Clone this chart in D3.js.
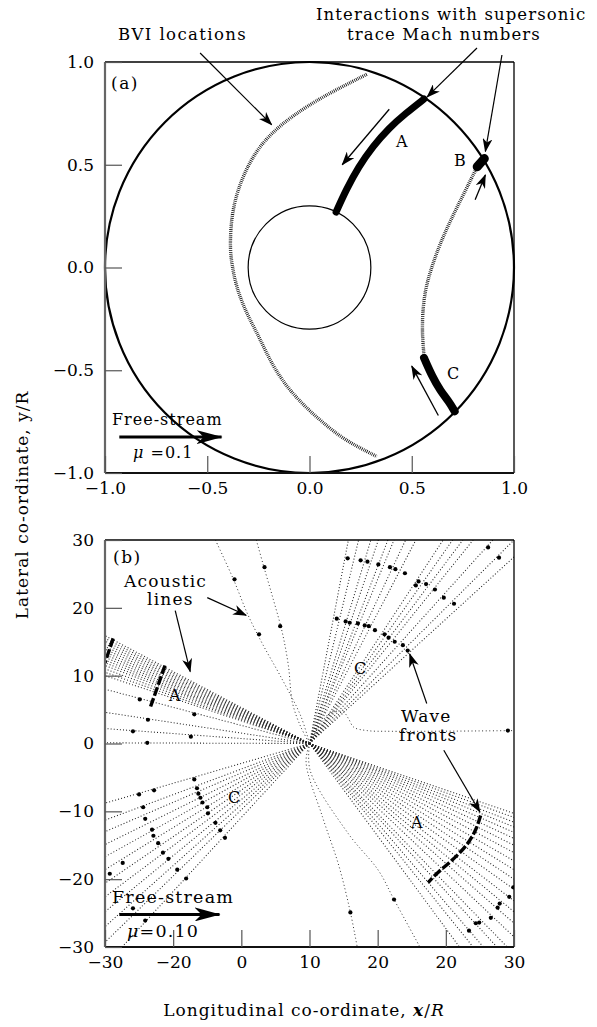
<!DOCTYPE html>
<html>
<head>
<meta charset="utf-8">
<script src="https://cdn.jsdelivr.net/npm/d3@7"></script>
<style>
  body { margin: 0; background: #fff; }
  svg { display: block; font-family: "DejaVu Serif", "Liberation Serif", serif; }
</style>
</head>
<body>
<svg id="fig" width="597" height="1027"></svg>
<script>
// ---------------- Panel (a): rotor disc, coordinates in x/R, y/R ----------------
const aTickValues = [-1, -0.5, 0, 0.5, 1];
const aTickLabels = ["\u22121.0", "\u22120.5", "0.0", "0.5", "1.0"];
const discRadius = 1.0;
const hubRadius = 0.3;

// BVI loci (hatched)
const bviLocusLeft = [
  [0.28, 0.94], [0.06, 0.83], [-0.08, 0.74], [-0.18, 0.66], [-0.26, 0.57],
  [-0.33, 0.44], [-0.38, 0.28], [-0.39, 0.10], [-0.38, 0.02], [-0.36, -0.09],
  [-0.31, -0.22], [-0.25, -0.33], [-0.19, -0.46], [-0.12, -0.57], [-0.03, -0.67],
  [0.06, -0.75], [0.17, -0.84], [0.33, -0.92]
];
const bviLocusRight = [
  [0.81, 0.47], [0.75, 0.35], [0.69, 0.23], [0.64, 0.12], [0.60, 0.01],
  [0.57, -0.09], [0.555, -0.19], [0.55, -0.31], [0.56, -0.43]
];
// Interactions with supersonic trace Mach numbers (thick)
const interactionA = [
  [0.13, 0.27], [0.18, 0.38], [0.24, 0.49], [0.31, 0.59], [0.39, 0.68], [0.47, 0.75], [0.56, 0.82]
];
const interactionB = [[0.82, 0.49], [0.855, 0.53]];
const interactionC = [[0.56, -0.44], [0.60, -0.53], [0.64, -0.60], [0.68, -0.65], [0.71, -0.70]];
// direction arrows along the loci
const sweepArrows = [
  [[0.39, 0.77], [0.16, 0.50]],
  [[0.81, 0.33], [0.86, 0.45]],
  [[0.63, -0.72], [0.50, -0.48]]
];
// leader arrows from the labels above the frame
const aLeaders = [
  [[-0.535, 1.044], [-0.185, 0.695]],
  [[0.819, 1.068], [0.575, 0.830]],
  [[0.941, 1.034], [0.860, 0.565]]
];
const aFreeStream = [[-0.93, -0.825], [-0.43, -0.825]];

// ---------------- Panel (b): acoustic lines, coordinates in x/R, y/R ----------------
const bTickValues = [-30, -20, -10, 0, 10, 20, 30];
const bXTickLabels = ["\u221230", "\u221220", "0", "10", "20", "20", "30"];
const bYTickLabels = ["\u221230", "\u221220", "\u221210", "0", "10", "20", "30"];
const rayOrigin = [0, 0];

// fan A: ends on the left edge (x = -30) and right / bottom edges
const fanALeftY = [15.9, 15.5, 15.1, 14.7, 14.3, 13.9, 13.5, 13.1, 12.7, 12.3, 11.9, 11.5, 11.0, 10.5, 10.0, 8.0, 4.6, 2.2, 0.1];
const fanARightY = [-10.3, -10.9, -11.6, -12.3, -13.1, -14.0, -15.0, -16.1, -17.3, -18.6, -20.0, -21.5, -23.2, -24.8, -26.5, -28.5];
const fanABottomX = [29.0, 27.5, 25.5, 24.0, 22.0];
// fan C: ends on the left / bottom edges and top / right edges
const fanCLeftY = [-8.8, -11.3, -13.0, -14.9, -16.7, -18.6, -20.6, -22.6, -24.8, -27.0, -29.3];
const fanCBottomX = [-27.5];
const fanCTopX = [5.7, 7.2, 9.0, 10.1, 11.5, 12.4, 14.1, 15.6, 19.6, 21.0, 22.5, 24.0, 26.9, 30.0];
const fanCRightY = [27.5];

// curved acoustic lines
const curvedLines = [
  [[-13.8, 30], [-11.2, 24.3], [-9.0, 18.9], [-6.8, 14.5], [-4.3, 10.0], [-1.3, 4.1], [0, 0]],
  [[-7.8, 30], [-6.8, 26.4], [-5.3, 21.2], [-4.0, 16.4], [-3.1, 11.5], [-2.5, 6.0], [-1.3, 2.5], [0, 0]],
  [[0, 0], [3.0, 4.5], [5.0, 4.6], [5.7, 3.7], [6.5, 2.4], [8.5, 1.9], [12, 1.8], [30, 1.9]],
  [[0, 0], [-0.5, -2.8], [1.9, -10.8], [4.3, -18.0], [6.0, -24.9], [7.0, -30]],
  [[0, 0], [0.1, -4.0], [5.7, -13.3], [10.1, -18.7], [12.4, -23.0], [16.2, -30]]
];

// wave-front markers
const waveFrontDots = [
  [5.6, 27.3], [7.5, 27.0], [8.5, 26.8], [10.1, 26.4], [11.8, 26.0], [12.6, 25.7], [14.0, 25.1],
  [15.6, 23.3], [16.0, 23.9], [17.1, 23.5], [18.4, 22.7], [19.7, 21.5], [21.2, 20.6], [26.2, 28.9], [27.8, 27.4],
  [4.0, 18.4], [5.3, 18.0], [5.9, 17.8], [7.1, 17.7], [8.1, 17.4], [8.7, 17.3], [9.6, 16.7],
  [11.0, 16.1], [11.6, 15.6], [12.5, 15.0], [13.7, 14.5], [14.4, 13.7],
  [29.1, 1.9],
  [-11.0, 24.2], [-6.6, 26.0], [-4.3, 17.3], [-7.4, 16.1],
  [-24.9, 6.5], [-23.7, 3.5], [-16.9, 4.3], [-25.9, 1.8], [-23.8, 0.1], [-17.4, 1.0],
  [-16.9, -5.3], [-16.5, -6.6], [-16.3, -7.4], [-16.0, -8.0], [-15.7, -8.7], [-15.0, -9.4],
  [-14.9, -10.3], [-13.8, -11.7], [-13.1, -12.8], [-12.4, -13.9],
  [-22.8, -6.9], [-25.0, -7.5], [-24.4, -9.4], [-24.1, -11.1], [-23.1, -12.7], [-22.9, -13.6],
  [-22.2, -14.7], [-21.5, -16.1], [-20.7, -17.0], [-19.4, -18.6], [-18.1, -19.9],
  [-29.3, -19.2], [-27.4, -17.6], [-25.9, -24.3], [-24.1, -26.1],
  [29.9, -21.2], [29.3, -22.6], [27.9, -23.6], [27.6, -24.2], [26.6, -25.7], [24.9, -26.4],
  [24.4, -26.5], [23.4, -27.6],
  [6.0, -24.9], [12.4, -23.0]
];
// continuous wave fronts of interaction A
const waveFrontsA = [
  [[-28.8, 15.5], [-30, 11.9]],
  [[-21.2, 11.5], [-22.2, 8.6], [-23.4, 5.2]],
  [[25.1, -10.6], [24.5, -12.6], [23.5, -14.4], [22.2, -16.0], [20.5, -17.6], [18.8, -19.0], [17.4, -20.5]]
];
const bLeaders = [
  [[-19.7, 19.6], [-17.5, 10.6]],
  [[-15.0, 21.5], [-9.3, 18.9]],
  [[17.2, 5.9], [14.7, 13.2]],
  [[19.7, -1.0], [25.0, -10.1]]
];
const bFreeStream = [[-27.9, -25.2], [-13.2, -25.2]];

// ---------------- drawing ----------------
const svg = d3.select("#fig");
const defs = svg.append("defs");

// arrowheads
defs.append("marker").attr("id", "head").attr("viewBox", "0 0 14 10")
  .attr("refX", 13).attr("refY", 5).attr("markerWidth", 14).attr("markerHeight", 10)
  .attr("markerUnits", "userSpaceOnUse").attr("orient", "auto")
  .append("path").attr("d", "M0,0 L14,5 L0,10 L4,5 Z").attr("fill", "#000");
defs.append("marker").attr("id", "bighead").attr("viewBox", "0 0 26 14")
  .attr("refX", 25).attr("refY", 7).attr("markerWidth", 26).attr("markerHeight", 14)
  .attr("markerUnits", "userSpaceOnUse").attr("orient", "auto")
  .append("path").attr("d", "M0,0 L26,7 L0,14 L7,7 Z").attr("fill", "#000");

function frame(g, x, y) {
  const [x0, x1] = x.range(), [y1, y0] = y.range();
  g.append("line").attr("x1", x0).attr("x2", x1).attr("y1", y0).attr("y2", y0)
    .attr("stroke", "#000").attr("stroke-width", 1.3);
  g.append("line").attr("x1", x1).attr("x2", x1).attr("y1", y0).attr("y2", y1)
    .attr("stroke", "#000").attr("stroke-width", 1.3);
  g.append("line").attr("x1", x0).attr("x2", x1).attr("y1", y1).attr("y2", y1)
    .attr("stroke", "#111").attr("stroke-width", 2);
  g.append("line").attr("x1", x0).attr("x2", x0).attr("y1", y0).attr("y2", y1)
    .attr("stroke", "#666").attr("stroke-width", 2.2);
}

function axes(g, x, y, xvals, xlabels, yvals, ylabels) {
  const bottom = y.range()[0], left = x.range()[0];
  const ax = g.append("g").attr("transform", `translate(0,${bottom})`)
    .call(d3.axisBottom(x).tickValues(xvals).tickSize(-17).tickPadding(9)
      .tickFormat((d, i) => xlabels[i]));
  const ay = g.append("g").attr("transform", `translate(${left},0)`)
    .call(d3.axisLeft(y).tickValues(yvals).tickSize(-17).tickPadding(11)
      .tickFormat((d, i) => ylabels[i]));
  [ax, ay].forEach(a => {
    a.select(".domain").remove();
    a.selectAll(".tick line").attr("stroke", "#555").attr("stroke-width", 1.2);
    a.selectAll(".tick text").attr("font-family", "DejaVu Serif, serif")
      .attr("font-size", 17).attr("fill", "#000");
  });
}

function arrow(g, pts, x, y, marker, width) {
  g.append("line")
    .attr("x1", x(pts[0][0])).attr("y1", y(pts[0][1]))
    .attr("x2", x(pts[1][0])).attr("y2", y(pts[1][1]))
    .attr("stroke", "#000").attr("stroke-width", width)
    .attr("marker-end", `url(#${marker})`);
}

function label(g, txt, px, py, size, opts = {}) {
  const t = g.append("text").attr("x", px).attr("y", py)
    .attr("font-size", size).attr("letter-spacing", opts.ls ?? 1)
    .attr("text-anchor", opts.anchor ?? "start").attr("fill", "#000");
  if (opts.italic) t.attr("font-style", "italic");
  t.text(txt);
  return t;
}

// ===== Panel (a) =====
const xa = d3.scaleLinear([-1, 1], [105, 514]);
const ya = d3.scaleLinear([-1, 1], [473, 62]);
const ga = svg.append("g");
const lineA = d3.line().x(d => xa(d[0])).y(d => ya(d[1])).curve(d3.curveBasis);

ga.append("ellipse").attr("cx", xa(0)).attr("cy", ya(0))
  .attr("rx", xa(discRadius) - xa(0)).attr("ry", ya(0) - ya(discRadius))
  .attr("fill", "none").attr("stroke", "#000").attr("stroke-width", 2.2);
ga.append("ellipse").attr("cx", xa(0)).attr("cy", ya(0))
  .attr("rx", xa(hubRadius) - xa(0)).attr("ry", ya(0) - ya(hubRadius))
  .attr("fill", "none").attr("stroke", "#000").attr("stroke-width", 1.2);

[bviLocusLeft, bviLocusRight].forEach(p => {
  ga.append("path").attr("d", lineA(p)).attr("fill", "none")
    .attr("stroke", "#111").attr("stroke-width", 3.4).attr("stroke-dasharray", "0.8 1.1");
});
ga.append("path").attr("d", lineA(interactionA)).attr("fill", "none")
  .attr("stroke", "#000").attr("stroke-width", 7).attr("stroke-linecap", "round");
ga.append("path").attr("d", lineA(interactionB)).attr("fill", "none")
  .attr("stroke", "#000").attr("stroke-width", 9).attr("stroke-linecap", "round");
ga.append("path").attr("d", lineA(interactionC)).attr("fill", "none")
  .attr("stroke", "#000").attr("stroke-width", 8).attr("stroke-linecap", "round");

sweepArrows.forEach(a => arrow(ga, a, xa, ya, "head", 1.3));
aLeaders.forEach(a => arrow(ga, a, xa, ya, "head", 1.2));
arrow(ga, aFreeStream, xa, ya, "bighead", 3);

frame(ga, xa, ya);
axes(ga, xa, ya, aTickValues, aTickLabels, aTickValues, aTickLabels);

label(ga, "(a)", 111, 89, 17, { ls: 1.5 });
label(ga, "A", 396, 147, 16, { ls: 0 });
label(ga, "B", 454, 166, 16, { ls: 0 });
label(ga, "C", 447, 379, 16, { ls: 0 });
label(ga, "Free-stream", 112, 425, 16, { ls: 1 });
const muA = label(ga, "", 133, 458, 16, { ls: 1 });
muA.append("tspan").attr("font-style", "italic").text("\u03bc");
muA.append("tspan").text(" =0.1");
label(svg, "BVI locations", 118, 40, 16.5, { ls: 1.4 });
label(svg, "Interactions with supersonic", 316, 20, 16.5, { ls: 1.1 });
label(svg, "trace Mach numbers", 347, 40, 16.5, { ls: 1.1 });

// ===== Panel (b) =====
const xb = d3.scaleLinear([-30, 30], [105, 514]);
const yb = d3.scaleLinear([-30, 30], [947, 540]);
const gb = svg.append("g");
defs.append("clipPath").attr("id", "clipb").append("rect")
  .attr("x", 105).attr("y", 540).attr("width", 409).attr("height", 407);
const plotB = gb.append("g").attr("clip-path", "url(#clipb)");
const lineB = d3.line().x(d => xb(d[0])).y(d => yb(d[1]));
const curveB = d3.line().x(d => xb(d[0])).y(d => yb(d[1])).curve(d3.curveCatmullRom);
const smoothB = d3.line().x(d => xb(d[0])).y(d => yb(d[1])).curve(d3.curveBasis);

const rays = [
  ...fanALeftY.map(v => [rayOrigin, [-30, v]]),
  ...fanARightY.map(v => [rayOrigin, [30, v]]),
  ...fanABottomX.map(v => [rayOrigin, [v, -30]]),
  ...fanCLeftY.map(v => [rayOrigin, [-30, v]]),
  ...fanCBottomX.map(v => [rayOrigin, [v, -30]]),
  ...fanCTopX.map(v => [rayOrigin, [v, 30]]),
  ...fanCRightY.map(v => [rayOrigin, [30, v]])
];
plotB.selectAll("path.ray").data(rays).join("path").attr("class", "ray")
  .attr("d", lineB).attr("fill", "none").attr("stroke", "#222")
  .attr("stroke-width", 1.05).attr("stroke-dasharray", "1 2.1");
plotB.selectAll("path.curved").data(curvedLines).join("path").attr("class", "curved")
  .attr("d", curveB).attr("fill", "none").attr("stroke", "#333")
  .attr("stroke-width", 1).attr("stroke-dasharray", "1 2.6");
plotB.selectAll("path.front").data(waveFrontsA).join("path").attr("class", "front")
  .attr("d", smoothB).attr("fill", "none").attr("stroke", "#000")
  .attr("stroke-width", 3.4).attr("stroke-dasharray", "9 2.5");
plotB.selectAll("circle.dot").data(waveFrontDots).join("circle").attr("class", "dot")
  .attr("cx", d => xb(d[0])).attr("cy", d => yb(d[1])).attr("r", 2.1).attr("fill", "#000");

bLeaders.forEach(a => arrow(gb, a, xb, yb, "head", 1.2));
arrow(gb, bFreeStream, xb, yb, "bighead", 3);

frame(gb, xb, yb);
axes(gb, xb, yb, bTickValues, bXTickLabels, bTickValues, bYTickLabels);

label(gb, "(b)", 113, 563, 17, { ls: 1.5 });
label(gb, "Acoustic", 124, 587, 17, { ls: 1.2 });
label(gb, "lines", 147, 605, 17, { ls: 1.2 });
label(gb, "A", 169, 701, 16, { ls: 0 });
label(gb, "C", 354, 674, 16, { ls: 0 });
label(gb, "C", 228, 803, 16, { ls: 0 });
label(gb, "A", 411, 828, 16, { ls: 0 });
label(gb, "Wave", 401, 722, 17, { ls: 1.2 });
label(gb, "fronts", 399, 741, 17, { ls: 1.2 });
label(gb, "Free-stream", 112, 903, 17.5, { ls: 1.2 });
const muB = label(gb, "", 127, 937, 17.5, { ls: 1.2 });
muB.append("tspan").attr("font-style", "italic").text("\u03bc");
muB.append("tspan").text("=0.10");

// axis titles
const xt = svg.append("text").attr("x", 304).attr("y", 1016).attr("text-anchor", "middle")
  .attr("font-size", 17).attr("letter-spacing", 1);
xt.append("tspan").text("Longitudinal co-ordinate, ");
xt.append("tspan").attr("font-style", "italic").attr("font-weight", "bold").text("x");
xt.append("tspan").text("/");
xt.append("tspan").attr("font-style", "italic").text("R");

svg.append("text").attr("transform", "translate(28,505) rotate(-90)")
  .attr("text-anchor", "middle").attr("font-size", 17).attr("letter-spacing", 1)
  .text("Lateral co-ordinate, y/R");
</script>
</body>
</html>
